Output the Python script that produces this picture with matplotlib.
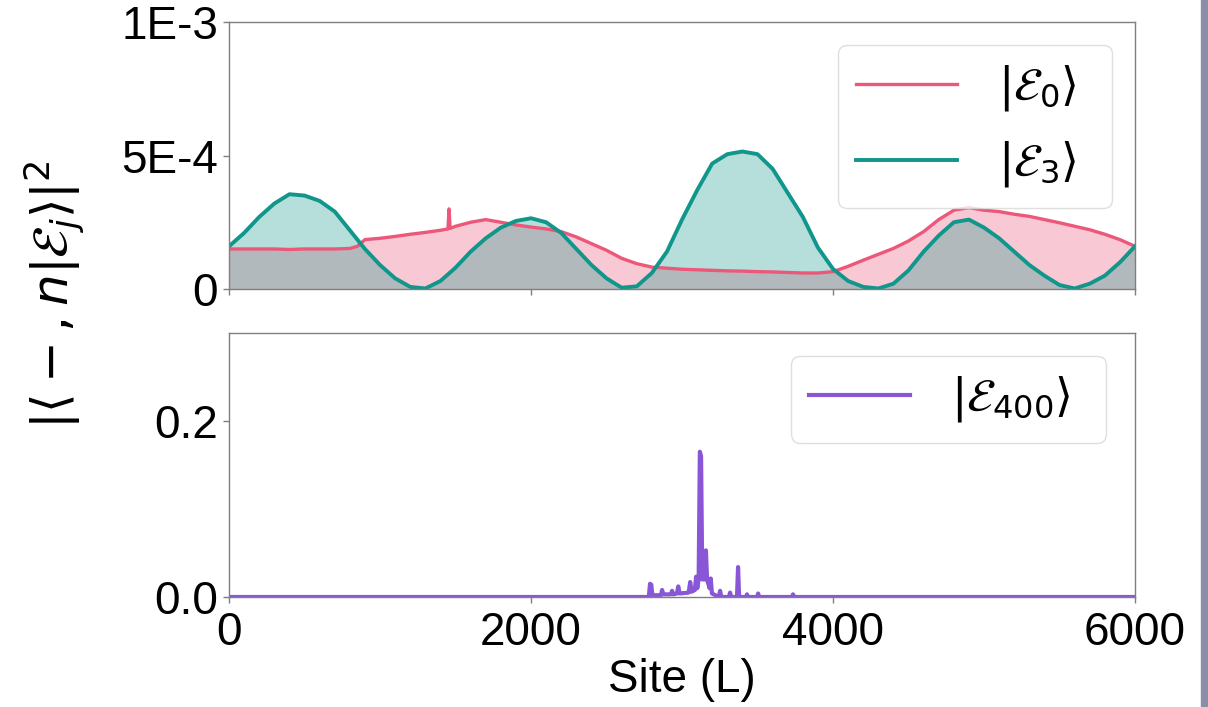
import matplotlib
matplotlib.use("Agg")
import matplotlib.pyplot as plt
from matplotlib.patches import Rectangle

plt.rcParams['font.family'] = ['Liberation Sans', 'DejaVu Sans']
plt.rcParams['mathtext.fontset'] = 'dejavusans'

# |E_0> (units of 1e-4)
e0_site = [0, 100, 200, 300, 400, 500, 600, 700, 800, 850, 900, 1000, 1100, 1200, 1300, 1400,
           1450, 1457, 1464, 1500, 1600, 1700, 1800, 1900, 2000, 2100, 2200, 2300, 2400, 2500,
           2600, 2700, 2800, 2900, 3000, 3100, 3200, 3300, 3400, 3500, 3600, 3700, 3800, 3900,
           4000, 4100, 4200, 4300, 4400, 4500, 4600, 4700, 4800, 4900, 5000, 5100, 5200, 5300,
           5400, 5500, 5600, 5700, 5800, 5900, 6000]
e0_val = [1.5, 1.5, 1.5, 1.5, 1.48, 1.5, 1.5, 1.5, 1.52, 1.6, 1.85, 1.9, 1.97, 2.05, 2.12, 2.2,
          2.25, 3.0, 2.27, 2.35, 2.5, 2.6, 2.5, 2.4, 2.32, 2.25, 2.15, 1.95, 1.7, 1.45,
          1.15, 0.95, 0.82, 0.78, 0.74, 0.72, 0.7, 0.68, 0.67, 0.65, 0.64, 0.62, 0.6, 0.6,
          0.65, 0.85, 1.08, 1.3, 1.52, 1.8, 2.15, 2.6, 2.95, 3.05, 2.95, 2.9, 2.8, 2.72,
          2.6, 2.48, 2.35, 2.22, 2.05, 1.85, 1.6]

# |E_3> (units of 1e-4)
e3_site = list(range(0, 6001, 100))
e3_val = [1.6, 2.1, 2.7, 3.2, 3.55, 3.5, 3.3, 2.9, 2.2, 1.5, 0.9, 0.4, 0.08, 0.02, 0.3,
          0.8, 1.4, 1.9, 2.3, 2.55, 2.65, 2.5, 2.1, 1.5, 0.9, 0.4, 0.05, 0.1, 0.6, 1.4,
          2.6, 3.7, 4.7, 5.05, 5.15, 5.05, 4.5, 3.6, 2.7, 1.55, 0.75, 0.3, 0.08, 0.02, 0.2,
          0.7, 1.4, 2.0, 2.5, 2.6, 2.3, 1.9, 1.4, 0.9, 0.5, 0.15, 0.02, 0.2, 0.5, 1.0, 1.6]

# |E_400>
e400_site = [0, 2780, 2788, 2796, 2804, 2860, 2868, 2876, 2926, 2934, 2942, 2966, 2975, 2984,
             3044, 3054, 3064, 3085, 3093, 3101, 3110, 3118, 3126, 3134, 3150, 3158, 3166,
             3182, 3190, 3198, 3244, 3252, 3260, 3310, 3318, 3326, 3364, 3371, 3378, 3424,
             3430, 3436, 3498, 3504, 3510, 3728, 3735, 3742, 6000]
e400_val = [0, 0, 0.015, 0.014, 0.002, 0.002, 0.008, 0.003, 0.003, 0.007, 0.003, 0.004, 0.012,
            0.004, 0.005, 0.017, 0.006, 0.008, 0.023, 0.01, 0.02, 0.165, 0.16, 0.02, 0.02,
            0.053, 0.02, 0.01, 0.021, 0.004, 0.0, 0.007, 0.0, 0.0, 0.005, 0.0, 0.0, 0.034,
            0.0, 0.0, 0.003, 0.0, 0.0, 0.004, 0.0, 0.0, 0.003, 0.0, 0.0]

red = '#EC577A'
teal = '#10968A'
purple = '#8856D6'
spine_col = '#7f7f7f'

fig = plt.figure(figsize=(12.08, 7.07), dpi=100)
ax1 = fig.add_axes([0.1896, 0.5912, 0.75, 0.3777])
ax2 = fig.add_axes([0.1896, 0.1556, 0.75, 0.3734], sharex=ax1)

s0 = [v * 1e-4 for v in e0_val]
s3 = [v * 1e-4 for v in e3_val]
ax1.fill_between(e0_site, 0, s0, color=red, alpha=0.32, lw=0)
ax1.plot(e0_site, s0, color=red, lw=2.4, label=r'$|\mathcal{E}_0\rangle$  ')
ax1.fill_between(e3_site, 0, s3, color=teal, alpha=0.3, lw=0)
ax1.plot(e3_site, s3, color=teal, lw=2.8, label=r'$|\mathcal{E}_3\rangle$  ')

ax2.plot(e400_site, e400_val, color=purple, lw=3, label=r'$|\mathcal{E}_{400}\rangle$  ')

ax1.set_xlim(0, 6000)
ax1.set_ylim(0, 1e-3)
ax1.set_yticks([0, 5e-4, 1e-3])
ax1.set_yticklabels(['0', '5E-4', '1E-3'])
ax2.set_ylim(0, 0.3)
ax2.set_yticks([0.0, 0.2])
ax2.set_yticklabels(['0.0', '0.2'])
ax2.set_xticks([0, 2000, 4000, 6000])
ax1.tick_params(labelbottom=False)

for ax in (ax1, ax2):
    for sp in ax.spines.values():
        sp.set_color(spine_col)
        sp.set_linewidth(1.0)
    ax.tick_params(labelsize=33, length=4, width=1, color=spine_col, pad=4)
ax2.tick_params(axis='x', pad=6)

ax2.set_xlabel('Site (L)', fontsize=33, labelpad=2)
fig.text(0.0455, 0.583, r'$|\langle -, n|\mathcal{E}_j\rangle|^2$', rotation=90,
         fontsize=36, ha='center', va='center')

leg_kw = dict(fontsize=33, handlelength=2.2, handletextpad=0.9, borderaxespad=0.5,
              labelspacing=0.57, loc='upper right', edgecolor='#d8d8d8')
ax1.legend(**leg_kw)
ax2.legend(bbox_to_anchor=(1 - 6 / 906, 1), **leg_kw)

fig.patches.append(Rectangle((1201 / 1208, 0), 7 / 1208, 1, transform=fig.transFigure,
                             color='#8a8fa8', zorder=10))

fig.savefig('out.png', dpi=100)
